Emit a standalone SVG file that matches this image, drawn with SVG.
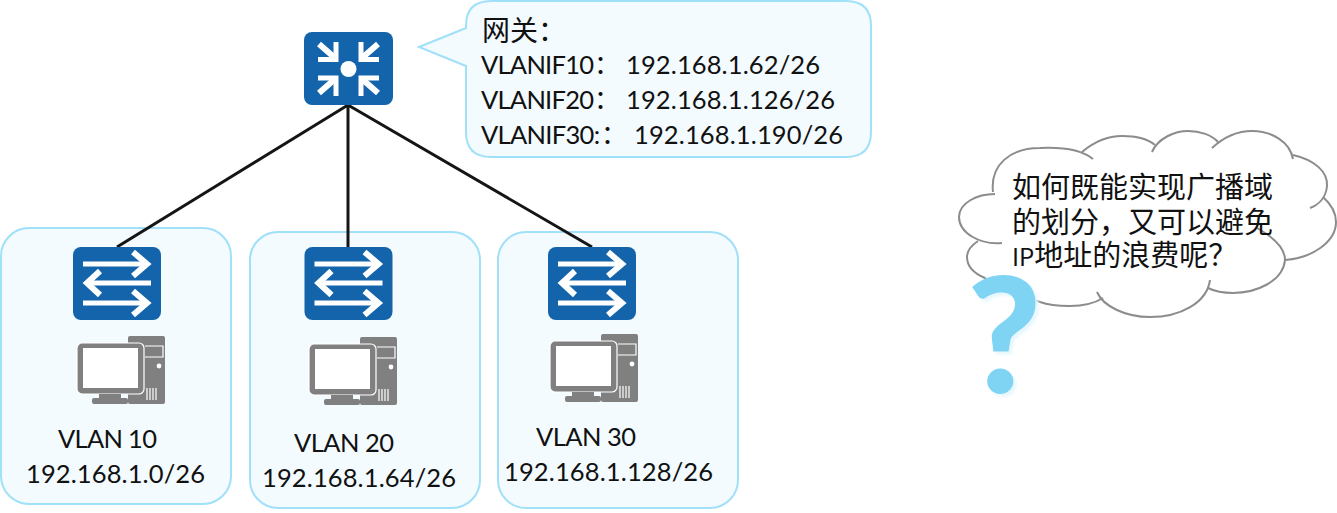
<svg xmlns="http://www.w3.org/2000/svg" width="1337" height="513" viewBox="0 0 1337 513">
<style>
text{font-family:"Lato","Liberation Sans","Noto Sans CJK SC",sans-serif;font-size:25.5px;fill:#111}
.cjk{font-family:"Noto Sans CJK SC",sans-serif;font-size:29px;fill:#111}
.vlan{fill:#f3fbff;stroke:#a0e0f8;stroke-width:2}
.dev{fill:#1464ac}
.w{fill:none;stroke:#fff;stroke-width:5}
.h{fill:none;stroke:#fff;stroke-width:6}
.c{stroke:#151515;stroke-width:3;fill:none}
.g{fill:#808080}
.lobe{fill:none;stroke:#8c8c8c;stroke-width:2}
</style>
<defs>
<g id="sw">
<rect class="dev" width="88" height="73" rx="8"/>
<path class="w" d="M10 17H74M78 36H14M10 56H74"/>
<path class="h" d="M60 5L74 17L60 29M27 24L14 36L27 48M60 44L74 56L60 68"/>
</g>
<g id="pc">
<rect class="g" x="51" y="0" width="37" height="68" rx="2"/>
<rect class="g" x="0" y="7" width="67" height="51" rx="5" stroke="#fff" stroke-width="1.2"/>
<rect x="6" y="12" width="55" height="40" fill="#fff"/>
<rect class="g" x="22" y="58" width="22" height="5"/>
<rect class="g" x="15" y="62" width="36" height="6" rx="2"/>
<path d="M68 10H86V21H68" fill="none" stroke="#fff" stroke-width="1.2"/>
<circle cx="82" cy="30" r="2.4" fill="#fff"/>
<path d="M70 52V64M73 52V64M76 52V64M79 52V64" stroke="#fff" stroke-width="1.2"/>
</g>
<filter id="glow" x="-20%" y="-20%" width="140%" height="140%"><feDropShadow dx="3" dy="3" stdDeviation="1.5" flood-color="#e6f7fd"/></filter>
</defs>
<g id="vlan10"><rect class="vlan" x="1" y="228" width="230" height="276" rx="28"/></g>
<g id="vlan20"><rect class="vlan" x="250" y="232" width="230" height="276" rx="28"/></g>
<g id="vlan30"><rect class="vlan" x="498" y="232" width="240" height="276" rx="28"/></g>
<g id="connectors">
<path class="c" d="M348 105L117 247M348 105V247M348 105L592 247"/>
</g>
<g id="router">
<rect class="dev" x="304" y="32" width="89" height="73" rx="8"/>
<circle cx="348.500" cy="69" r="8" fill="#fff"/>
<path class="w" d="M318 59.500H336V42M379 59.500H361V42M318 78H336V96M379 78H361V96"/>
<path class="h" d="M319 44L335 58M378 44L362 58M319 93L335 79M378 93L362 79"/>
</g>
<g id="callout">
<path d="M419 47L466 28V26Q466 1 491 1H846Q871 1 871 26V132Q871 157 846 157H491Q466 157 466 132V66Z" fill="#f3fbff" stroke="#a0e0f8" stroke-width="2"/>
<text class="cjk" x="482" y="41" style="font-size:28px">网关：</text>
<text x="481" y="74" textLength="113" lengthAdjust="spacing">VLANIF10</text><text class="cjk" x="594" y="74" style="font-size:26px">：</text><text x="626" y="74" textLength="194" lengthAdjust="spacing">192.168.1.62/26</text>
<text x="481" y="109" textLength="113" lengthAdjust="spacing">VLANIF20</text><text class="cjk" x="594" y="109" style="font-size:26px">：</text><text x="626" y="109" textLength="209" lengthAdjust="spacing">192.168.1.126/26</text>
<text x="481" y="144" textLength="119" lengthAdjust="spacing">VLANIF30:</text><text class="cjk" x="601" y="144" style="font-size:26px">：</text><text x="634" y="144" textLength="209" lengthAdjust="spacing">192.168.1.190/26</text>
</g>
<g id="switch10"><use href="#sw" x="73" y="247"/></g>
<g id="switch20"><use href="#sw" x="304.500" y="247"/></g>
<g id="switch30"><use href="#sw" x="548" y="247"/></g>
<g id="pc10"><use href="#pc" x="77" y="336"/></g>
<g id="pc20"><use href="#pc" x="309" y="337"/></g>
<g id="pc30"><use href="#pc" x="550" y="334"/></g>
<g id="label10"><text x="58" y="448" textLength="99" lengthAdjust="spacing">VLAN 10</text><text x="26" y="483" textLength="179" lengthAdjust="spacing">192.168.1.0/26</text></g>
<g id="label20"><text x="294" y="452" textLength="100" lengthAdjust="spacing">VLAN 20</text><text x="262" y="487" textLength="194" lengthAdjust="spacing">192.168.1.64/26</text></g>
<g id="label30"><text x="536" y="446" textLength="100" lengthAdjust="spacing">VLAN 30</text><text x="504" y="481" textLength="209" lengthAdjust="spacing">192.168.1.128/26</text></g>
<g id="cloud">
<path d="M995 192C990 165 1010 148 1040 148C1062 147 1082 150 1093 159L1082 152C1095 140 1110 136 1125 136C1140 136 1150 140 1155 145L1152 152C1160 138 1175 131 1188 131C1200 131 1212 135 1218 142L1212 148C1225 136 1240 131 1252 131C1272 131 1290 142 1293 159L1293 155C1315 160 1328 172 1327 186C1326 198 1318 205 1310 208L1323 197C1332 205 1336 213 1336 222C1336 242 1312 258 1285 260L1257 228C1275 238 1285 248 1285 260C1283 282 1255 293 1233 293C1222 293 1214 291 1208 288L1210 280C1207 303 1180 317 1150 317C1125 317 1103 306 1097 292L1103 298C1095 303 1082 306 1070 306C1058 306 1048 305 1040 302L985 278C973 273 967 266 967 257C967 250 972 245 978 241L1002 243C980 245 959 233 959 217C959 203 977 194 995 194Z" fill="#fff"/>
<path class="lobe" d="M993 192C990 165 1010 148 1040 148C1062 147 1082 150 1093 159"/>
<path class="lobe" d="M1082 152C1095 141 1110 136 1122 136C1136 136 1148 139 1155 145"/>
<path class="lobe" d="M1152 152C1158 138 1175 131 1188 131C1200 131 1212 135 1218 142"/>
<path class="lobe" d="M1212 148C1225 136 1240 131 1252 131C1272 131 1290 142 1293 159"/>
<path class="lobe" d="M1293 155C1315 160 1328 172 1327 186C1326 198 1318 205 1310 208"/>
<path class="lobe" d="M1323 197C1332 205 1336 213 1336 222C1336 242 1312 258 1285 260"/>
<path class="lobe" d="M1257 228C1275 238 1285 248 1285 260C1283 282 1255 293 1233 293C1222 293 1214 291 1208 288"/>
<path class="lobe" d="M1210 280C1207 303 1180 317 1150 317C1125 317 1103 306 1097 292"/>
<path class="lobe" d="M1103 298C1095 303 1082 306 1070 306C1058 306 1048 305 1040 302C1020 295 1000 290 985 278"/>
<path class="lobe" d="M985 278C973 273 967 266 967 257C967 250 972 245 978 241"/>
<path class="lobe" d="M1002 243C980 245 959 233 959 217C959 203 977 194 995 194"/>
</g>
<g id="cloudtext">
<text class="cjk" x="1012" y="198">如何既能实现广播域</text>
<text class="cjk" x="1012" y="233">的划分，又可以避免</text>
<text class="cjk" x="1012" y="266"><tspan style="font-size:24px">IP</tspan>地址的浪费呢？</text>
</g>
<g id="question"><text x="967" y="393" filter="url(#glow)" style="font-family:'Lato','Liberation Sans',sans-serif;font-size:160px;font-weight:900;fill:#7fd4f4">?</text></g>
</svg>
